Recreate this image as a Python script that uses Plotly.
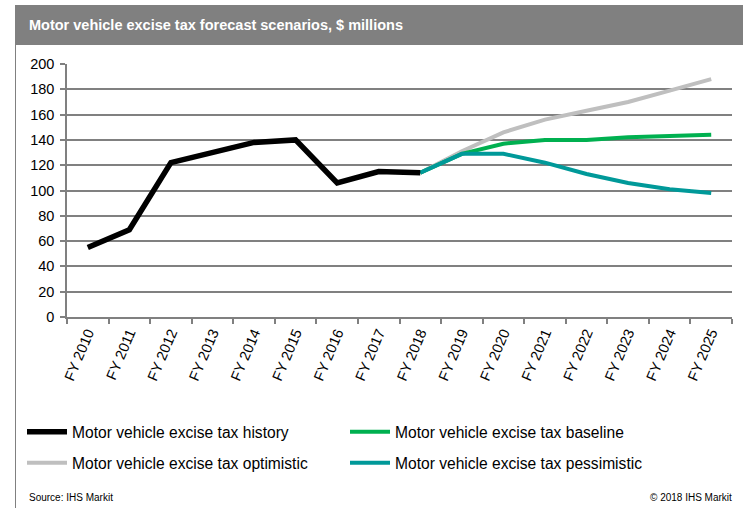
import plotly.graph_objects as go

years = ["FY 2010", "FY 2011", "FY 2012", "FY 2013", "FY 2014", "FY 2015", "FY 2016", "FY 2017",
         "FY 2018", "FY 2019", "FY 2020", "FY 2021", "FY 2022", "FY 2023", "FY 2024", "FY 2025"]

history_years = years[:9]
history = [55, 69, 122, 130, 138, 140, 106, 115, 114]

forecast_years = years[8:]
baseline = [114, 129, 137, 140, 140, 142, 143, 144]
optimistic = [114, 131, 146, 156, 163, 170, 179, 188]
pessimistic = [114, 129, 129, 122, 113, 106, 101, 98]

W, H = 743, 508
L, R, T, B = 67, 732, 64, 317

def px(x):
    return (x - L) / (R - L)

def py(y):
    return (B - y) / (B - T)

fig = go.Figure()
fig.add_trace(go.Scatter(x=forecast_years, y=optimistic, mode="lines", name="Motor vehicle excise tax optimistic",
                         line=dict(color="#BFBFBF", width=4), legend="legend2", legendrank=1))
fig.add_trace(go.Scatter(x=forecast_years, y=baseline, mode="lines", name="Motor vehicle excise tax baseline",
                         line=dict(color="#00B050", width=4), legend="legend", legendrank=2))
fig.add_trace(go.Scatter(x=forecast_years, y=pessimistic, mode="lines", name="Motor vehicle excise tax pessimistic",
                         line=dict(color="#009999", width=4), legend="legend2", legendrank=2))
fig.add_trace(go.Scatter(x=history_years, y=history, mode="lines", name="Motor vehicle excise tax history",
                         line=dict(color="#000000", width=5.5), legend="legend", legendrank=1))

font = "Liberation Sans, Arial, sans-serif"

legend_common = dict(orientation="h", xanchor="left", yanchor="middle",
                     entrywidth=268, entrywidthmode="pixels",
                     font=dict(family=font, size=15.6, color="#000000"),
                     itemwidth=40, tracegroupgap=0, bgcolor="rgba(0,0,0,0)")

fig.update_layout(
    width=W, height=H,
    margin=dict(l=L, r=W - R, t=T, b=H - B, pad=0),
    paper_bgcolor="white", plot_bgcolor="white",
    font=dict(family=font, size=13, color="#000000"),
    showlegend=True,
    legend=dict(x=px(22), y=py(432), **legend_common),
    legend2=dict(x=px(22), y=py(463), **legend_common),
    xaxis=dict(type="category", categoryorder="array", categoryarray=years,
               range=[-0.5, 15.5], tickson="boundaries", ticks="outside", ticklen=5,
               tickcolor="#808080", tickwidth=1.5, showline=True, linecolor="#808080", linewidth=1.5,
               showgrid=False, tickangle=-67, tickfont=dict(family=font, size=14.5, color="#000000"),
               fixedrange=True),
    yaxis=dict(range=[0, 200], dtick=20, tick0=0, ticks="outside", ticklen=5, tickcolor="#808080",
               tickwidth=1.5, showline=True, linecolor="#808080", linewidth=1.5,
               showgrid=True, gridcolor="#808080", gridwidth=1.5, zeroline=False,
               ticklabelstandoff=3,
               tickfont=dict(family=font, size=14.5, color="#000000"), fixedrange=True),
    shapes=[
        dict(type="rect", xref="paper", yref="paper", x0=px(15), x1=px(743), y0=py(45), y1=py(5),
             fillcolor="#808080", line=dict(width=0), layer="below"),
        dict(type="line", xref="paper", yref="paper", x0=px(15.5), x1=px(15.5), y0=py(45), y1=py(508),
             line=dict(color="#808080", width=1)),
    ],
    annotations=[
        dict(text="<b>Motor vehicle excise tax forecast scenarios, $ millions</b>", xref="paper", yref="paper",
             x=px(27), y=py(25), xanchor="left", yanchor="middle", showarrow=False,
             font=dict(family=font, size=14.5, color="white")),
        dict(text="Source: IHS Markit", xref="paper", yref="paper", x=px(27), y=py(497),
             xanchor="left", yanchor="middle", showarrow=False,
             font=dict(family=font, size=10, color="#000000")),
        dict(text="© 2018 IHS Markit", xref="paper", yref="paper", x=px(734), y=py(497),
             xanchor="right", yanchor="middle", showarrow=False,
             font=dict(family=font, size=10, color="#000000")),
    ],
)

fig.write_html("out.html", config={"displayModeBar": False},
               post_script="document.body.style.margin='0px';document.body.style.overflow='hidden';")
